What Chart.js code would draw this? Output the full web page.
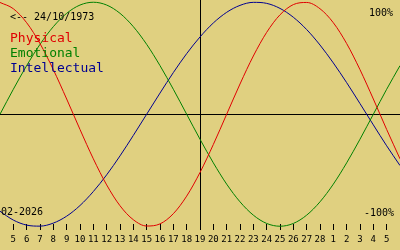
<!DOCTYPE html>
<html>
<head>
<meta charset="utf-8">
<script src="https://cdn.jsdelivr.net/npm/chart.js@4/dist/chart.umd.min.js"></script>
<style>
  body { margin: 0; background: #e0d080; }
  #wrap { position: relative; width: 400px; height: 250px; }
  canvas { display: block; }
  .txt { position: absolute; font-family: 'DejaVu Sans Mono', monospace; line-height: 1; white-space: pre; }
  .small { font-size: 10px; color: #000; }
  .big { font-size: 13px; }
</style>
</head>
<body>
<div id="wrap">
  <canvas id="bio" width="400" height="250"></canvas>
  <div class="txt small" style="left:10px;top:12px">&lt;-- 24/10/1973</div>
  <div class="txt big" style="left:10px;top:31px;color:#e00000">Physical</div>
  <div class="txt big" style="left:10px;top:46px;color:#008000">Emotional</div>
  <div class="txt big" style="left:10px;top:61px;color:#000090">Intellectual</div>
  <div class="txt small" style="right:7px;top:8px">100%</div>
  <div class="txt small" style="right:6px;top:208px">-100%</div>
  <div class="txt small" style="left:1px;top:207px">02-2026</div>
</div>
<script>
// days shown, 4 Feb 2026 .. 6 Mar 2026 (one point per day)
const days = ['4', '5', '6', '7', '8', '9', '10', '11', '12', '13', '14', '15', '16', '17', '18', '19',
  '20', '21', '22', '23', '24', '25', '26', '27', '28', '1', '2', '3', '4', '5', '6'];

const physical = [0.998, 0.942, 0.817, 0.631, 0.398, 0.136, -0.136, -0.398, -0.631, -0.817, -0.942,
  -0.998, -0.979, -0.888, -0.731, -0.520, -0.270, 0, 0.270, 0.520, 0.731, 0.888, 0.979, 0.998,
  0.942, 0.817, 0.631, 0.398, 0.136, -0.136, -0.398];

const emotional = [0, 0.223, 0.434, 0.624, 0.782, 0.901, 0.975, 1, 0.975, 0.901, 0.782, 0.624,
  0.434, 0.223, 0, -0.223, -0.434, -0.624, -0.782, -0.901, -0.975, -1, -0.975, -0.901, -0.782,
  -0.624, -0.434, -0.223, 0, 0.223, 0.434];

const intellectual = [-0.866, -0.945, -0.990, -0.999, -0.972, -0.910, -0.815, -0.690, -0.541,
  -0.372, -0.189, 0, 0.189, 0.372, 0.541, 0.690, 0.815, 0.910, 0.972, 0.999, 0.990, 0.945, 0.866,
  0.756, 0.618, 0.458, 0.282, 0.095, -0.095, -0.282, -0.458];

const today = 15; // index of 19 Feb

const pts = arr => arr.map((v, i) => ({ x: i, y: v }));
const curve = (label, arr, color) => ({
  label: label,
  data: pts(arr),
  borderColor: color,
  borderWidth: 1,
  pointRadius: 0,
  cubicInterpolationMode: 'monotone',
  clip: false
});

const ctx = document.querySelector('#bio').getContext('2d');

new Chart(ctx, {
  type: 'line',
  data: {
    datasets: [
      curve('Physical', physical, '#e00000'),
      curve('Emotional', emotional, '#008000'),
      curve('Intellectual', intellectual, '#000090')
    ]
  },
  options: {
    responsive: false,
    animation: false,
    devicePixelRatio: 1,
    layout: { padding: 0 },
    plugins: { legend: { display: false }, tooltip: { enabled: false } },
    scales: {
      x: {
        type: 'linear',
        min: 0,
        max: days.length - 1,
        border: { display: false },
        grid: {
          color: c => (c.tick && c.tick.value === today) ? '#000' : 'rgba(0,0,0,0)',
          tickColor: '#000',
          tickWidth: 1,
          tickLength: 6
        },
        ticks: {
          color: '#000',
          font: { family: 'DejaVu Sans Mono', size: 9 },
          padding: 4,
          maxRotation: 0,
          autoSkip: false,
          callback: v => days[v]
        },
        afterBuildTicks: s => { s.ticks = days.map((d, i) => ({ value: i })).slice(1, -1); },
        afterFit: s => { s.height = 26; }
      },
      y: {
        min: -0.98,
        max: 1.02,
        border: { display: false },
        grid: {
          drawTicks: false,
          color: c => (c.tick && c.tick.value === 0) ? '#000' : 'rgba(0,0,0,0)'
        },
        ticks: { display: false },
        afterBuildTicks: s => { s.ticks = [{ value: 0 }]; },
        afterFit: s => { s.width = 0; }
      }
    }
  }
});
</script>
</body>
</html>
